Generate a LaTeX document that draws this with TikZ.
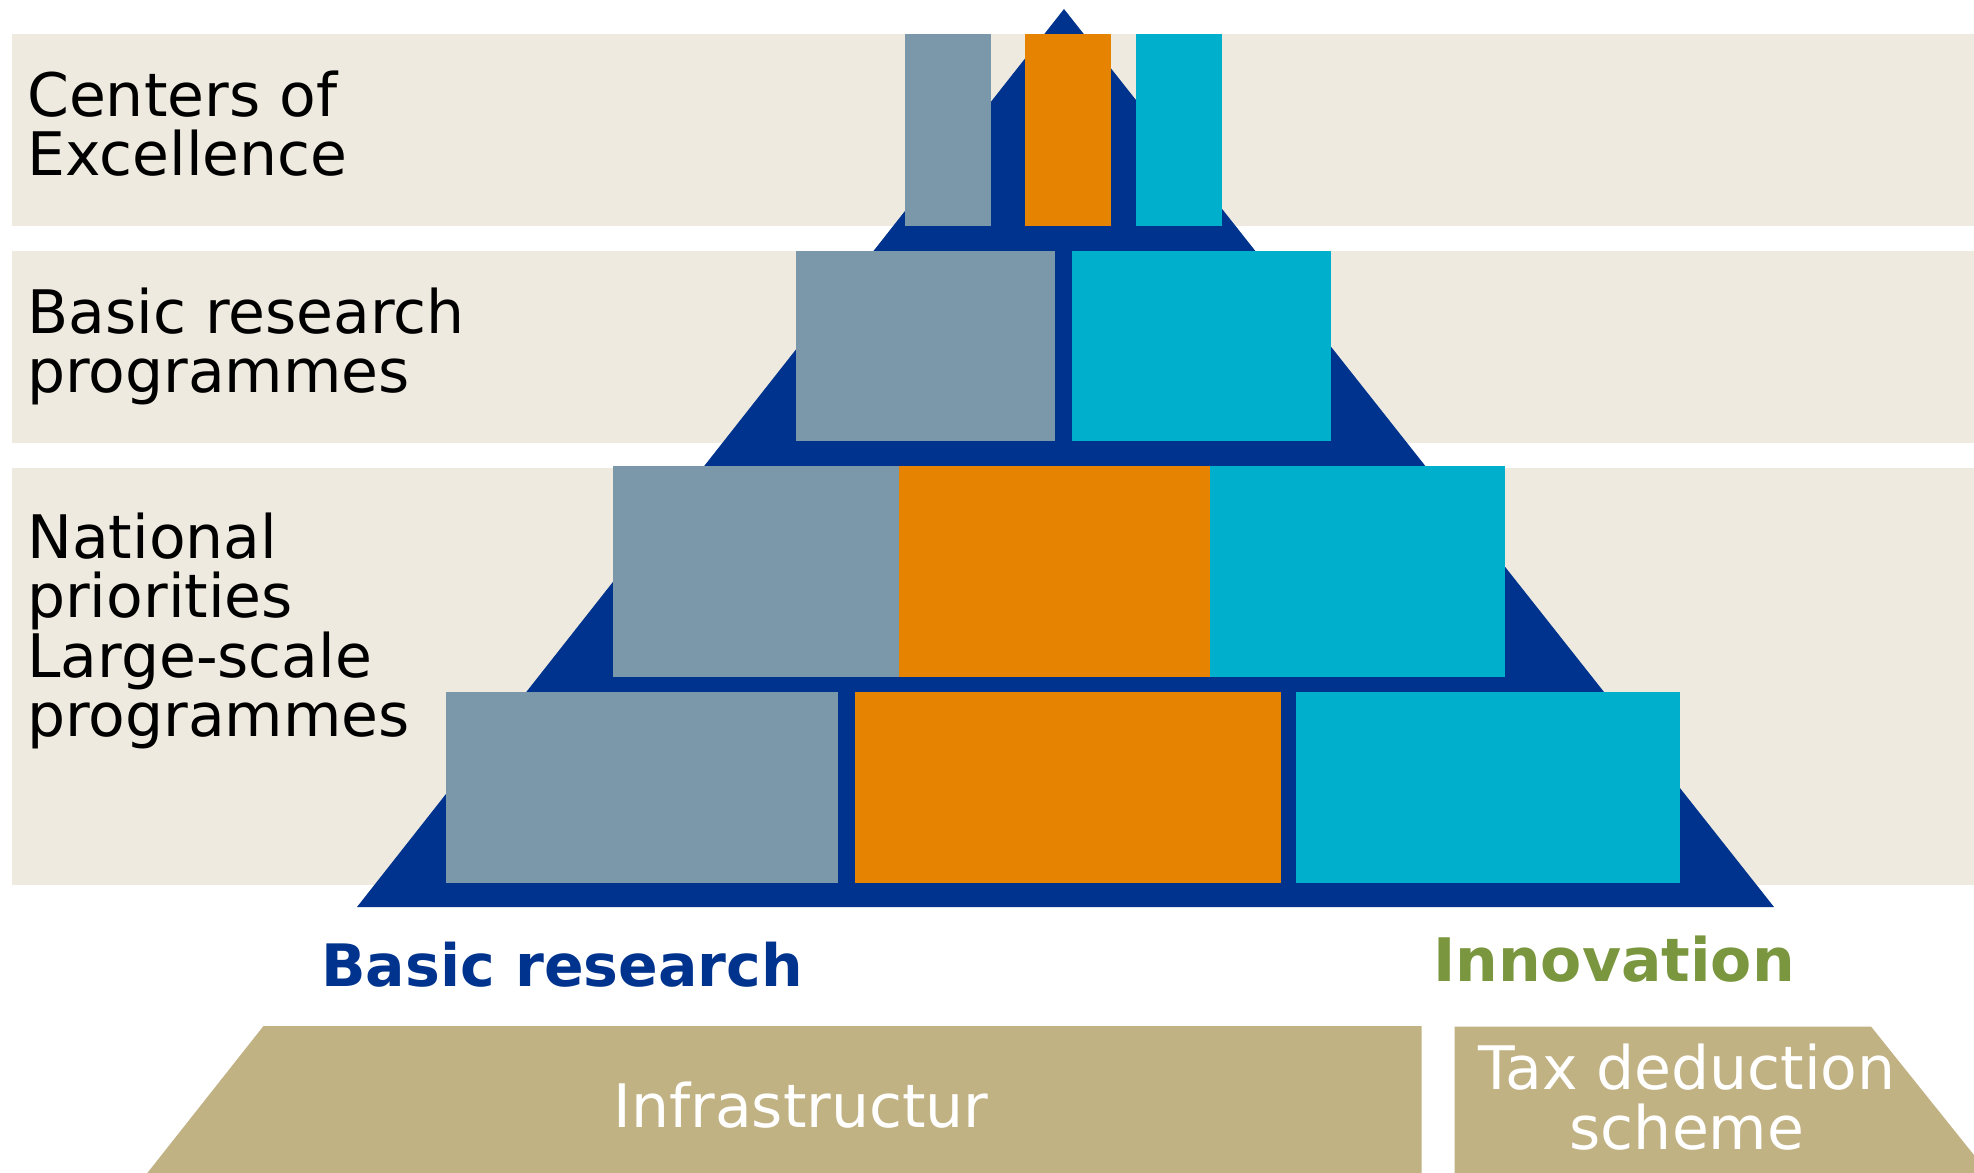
\documentclass[tikz,border=0pt]{standalone}
\usepackage{fontspec}
\setmainfont{DejaVu Sans}
\definecolor{bandbg}{HTML}{EEEADF}
\definecolor{navy}{HTML}{00338D}
\definecolor{greyblue}{HTML}{7B98AA}
\definecolor{orangec}{HTML}{E68300}
\definecolor{cyanc}{HTML}{00AFCB}
\definecolor{tan}{HTML}{C1B284}
\definecolor{greenc}{HTML}{7A963E}
\begin{document}
\begin{tikzpicture}[x=1pt,y=-1pt,
  leftlabel/.style={inner sep=0pt, anchor=base west, align=left, font=\fontsize{60}{59.5}\selectfont, text=black},
  boldlabel/.style={inner sep=0pt, anchor=base, font=\fontsize{60}{60}\selectfont\bfseries},
  whitelabel/.style={inner sep=0pt, anchor=base, align=center, font=\fontsize{60}{60}\selectfont, text=white}]
\useasboundingbox (0,0) rectangle (1974,1173);
\clip (0,0) rectangle (1974,1173);
\fill[white] (0,0) rectangle (1974,1173);
% background bands
\fill[bandbg] (12,34) rectangle (1974,226);
\fill[bandbg] (12,251) rectangle (1974,443);
\fill[bandbg] (12,468) rectangle (1974,885);
% pyramid
\fill[navy] (1064,9) -- (1774,907) -- (357,907) -- cycle;
% row 1
\fill[greyblue] (905,34) rectangle (991,226);
\fill[orangec] (1025,34) rectangle (1111,226);
\fill[cyanc] (1136,34) rectangle (1222,226);
% row 2
\fill[greyblue] (796,251) rectangle (1055,441);
\fill[cyanc] (1072,251) rectangle (1331,441);
% row 3
\fill[greyblue] (613,466) rectangle (899,677);
\fill[orangec] (899,466) rectangle (1210,677);
\fill[cyanc] (1210,466) rectangle (1505,677);
% row 4
\fill[greyblue] (446,691.5) rectangle (838,883);
\fill[orangec] (855,691.5) rectangle (1281,883);
\fill[cyanc] (1296,691.5) rectangle (1680,883);
% bottom bases
\fill[tan] (263.5,1026) -- (1421.5,1026) -- (1421.5,1200) -- (126,1200) -- cycle;
\fill[tan] (1454.7,1026.5) -- (1871,1026.5) -- (2010,1200) -- (1454.7,1200) -- cycle;
% texts (base anchor = baseline of the last line)
\node[leftlabel] (coe) at (27,175.7) {Centers of\\Excellence};
\node[leftlabel] (brp) at (27,392.8) {Basic research\\programmes};
\node[leftlabel] (np) at (27,736.7) {National\\priorities\\Large-scale\\programmes};
\node[boldlabel, text=navy, font=\fontsize{58.5}{60}\selectfont\bfseries] (basic) at (562,986) {Basic research};
\node[boldlabel, text=greenc] (innov) at (1614,981.7) {Innovation};
\node[whitelabel] (infra) at (801,1127.7) {Infrastructur};
\node[whitelabel] (tax) at (1687,1149) {Tax deduction\\scheme};
\end{tikzpicture}
\end{document}
